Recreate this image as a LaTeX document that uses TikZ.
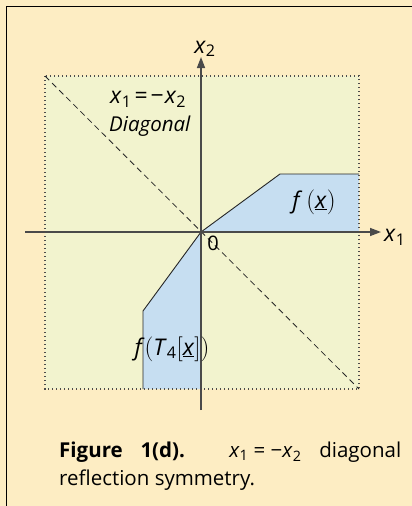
\documentclass[tikz,border=0pt]{standalone}
\usepackage{fontspec}
\setmainfont{Open Sans}
\usetikzlibrary{positioning,arrows.meta}
\definecolor{paper}{HTML}{FDEDC3}
\definecolor{plane}{HTML}{F2F3CE}
\definecolor{region}{HTML}{C6DEF1}
\definecolor{axisgray}{HTML}{4A4A4A}
\newcommand{\xvar}[1]{\textit{x}\textsubscript{#1}}
\newcommand{\xund}{\underline{\textit{x}}}

\begin{document}
\begin{tikzpicture}[
  x=1pt, y=-1pt,
  axisline/.style={draw=axisgray, line width=1.4pt,
    -{Triangle[length=11pt,width=8pt]}},
  edge/.style={draw=black!85, line width=0.9pt},
  diag/.style={draw=black!85, line width=0.8pt, dash pattern=on 6pt off 4pt},
  frame/.style={draw=black!70, line width=1.1pt, dash pattern=on 1.2pt off 2.8pt},
  lbl/.style={font=\fontsize{23}{26}\selectfont, inner sep=1pt},
  txt/.style={font=\fontsize{20}{24}\selectfont, inner sep=1pt}
]
\useasboundingbox (0,0) rectangle (412,506);
\fill[paper] (0,0) rectangle (412,506);
\draw[black, line width=1.3pt] (6.5,506) |- (412,6.5);

% --- plane and regions ---
\coordinate (tl) at (45,76);
\coordinate (br) at (359,389);
\coordinate (o) at (201,232);
\fill[plane] (tl) rectangle (br);
\coordinate (a1) at (280,174);
\coordinate (a2) at (359,174);
\coordinate (b1) at (143,311);
\coordinate (b2) at (143,389);
\fill[region] (o) -- (a1) -- (a2) -- (359,232) -- cycle;
\fill[region] (o) -- (b1) -- (b2) -- (201,389) -- cycle;
\draw[edge] (o) -- (a1) -- (a2);
\draw[edge] (o) -- (b1) -- (b2);
\draw[frame] (tl) rectangle (br);
\draw[diag] (tl) -- (br);

% --- axes ---
\coordinate (x1s) at (25,232);
\coordinate (x1e) at (381,232);
\coordinate (x2s) at (201,410);
\coordinate (x2e) at (201,57);
\draw[axisline] (x1s) -- (x1e);
\draw[axisline] (x2s) -- (x2e);
\node[lbl, right=2pt of x1e, yshift=-5pt] (x1lab) {\xvar{1}};
\node[lbl, above=-1pt of x2e, xshift=4pt] (x2lab) {\xvar{2}};
\node[txt] (zero) at (213,243) {0};

% --- labels ---
\node[lbl, anchor=west] (eqn) at (109,99) {\xvar{1}\hspace{3pt}=\hspace{3pt}−\hspace{1pt}\xvar{2}};
\node[txt, anchor=west, font=\fontsize{20.5}{24}\selectfont\itshape] (diaglab) at (108,126) {Diagonal};
\node[lbl] (fx) at (314,202) {\textit{f}\,\(\biggl(\)\xund\(\biggr)\)};
\node[lbl] (ftx) at (172,349) {\textit{f}\(\biggl(\)\textit{T}\textsubscript{4}\(\Bigl[\)\xund\(\Bigr]\biggr)\)};

% --- caption ---
\node[anchor=north west, text width=342pt, align=justify, inner sep=0pt,
  font=\fontsize{20.5}{27.5}\selectfont] (caption) at (59,442)
  {\textbf{Figure 1(d).} \mbox{\xvar{1} = −\xvar{2}} diagonal\linebreak reflection symmetry.};
\end{tikzpicture}
\end{document}
